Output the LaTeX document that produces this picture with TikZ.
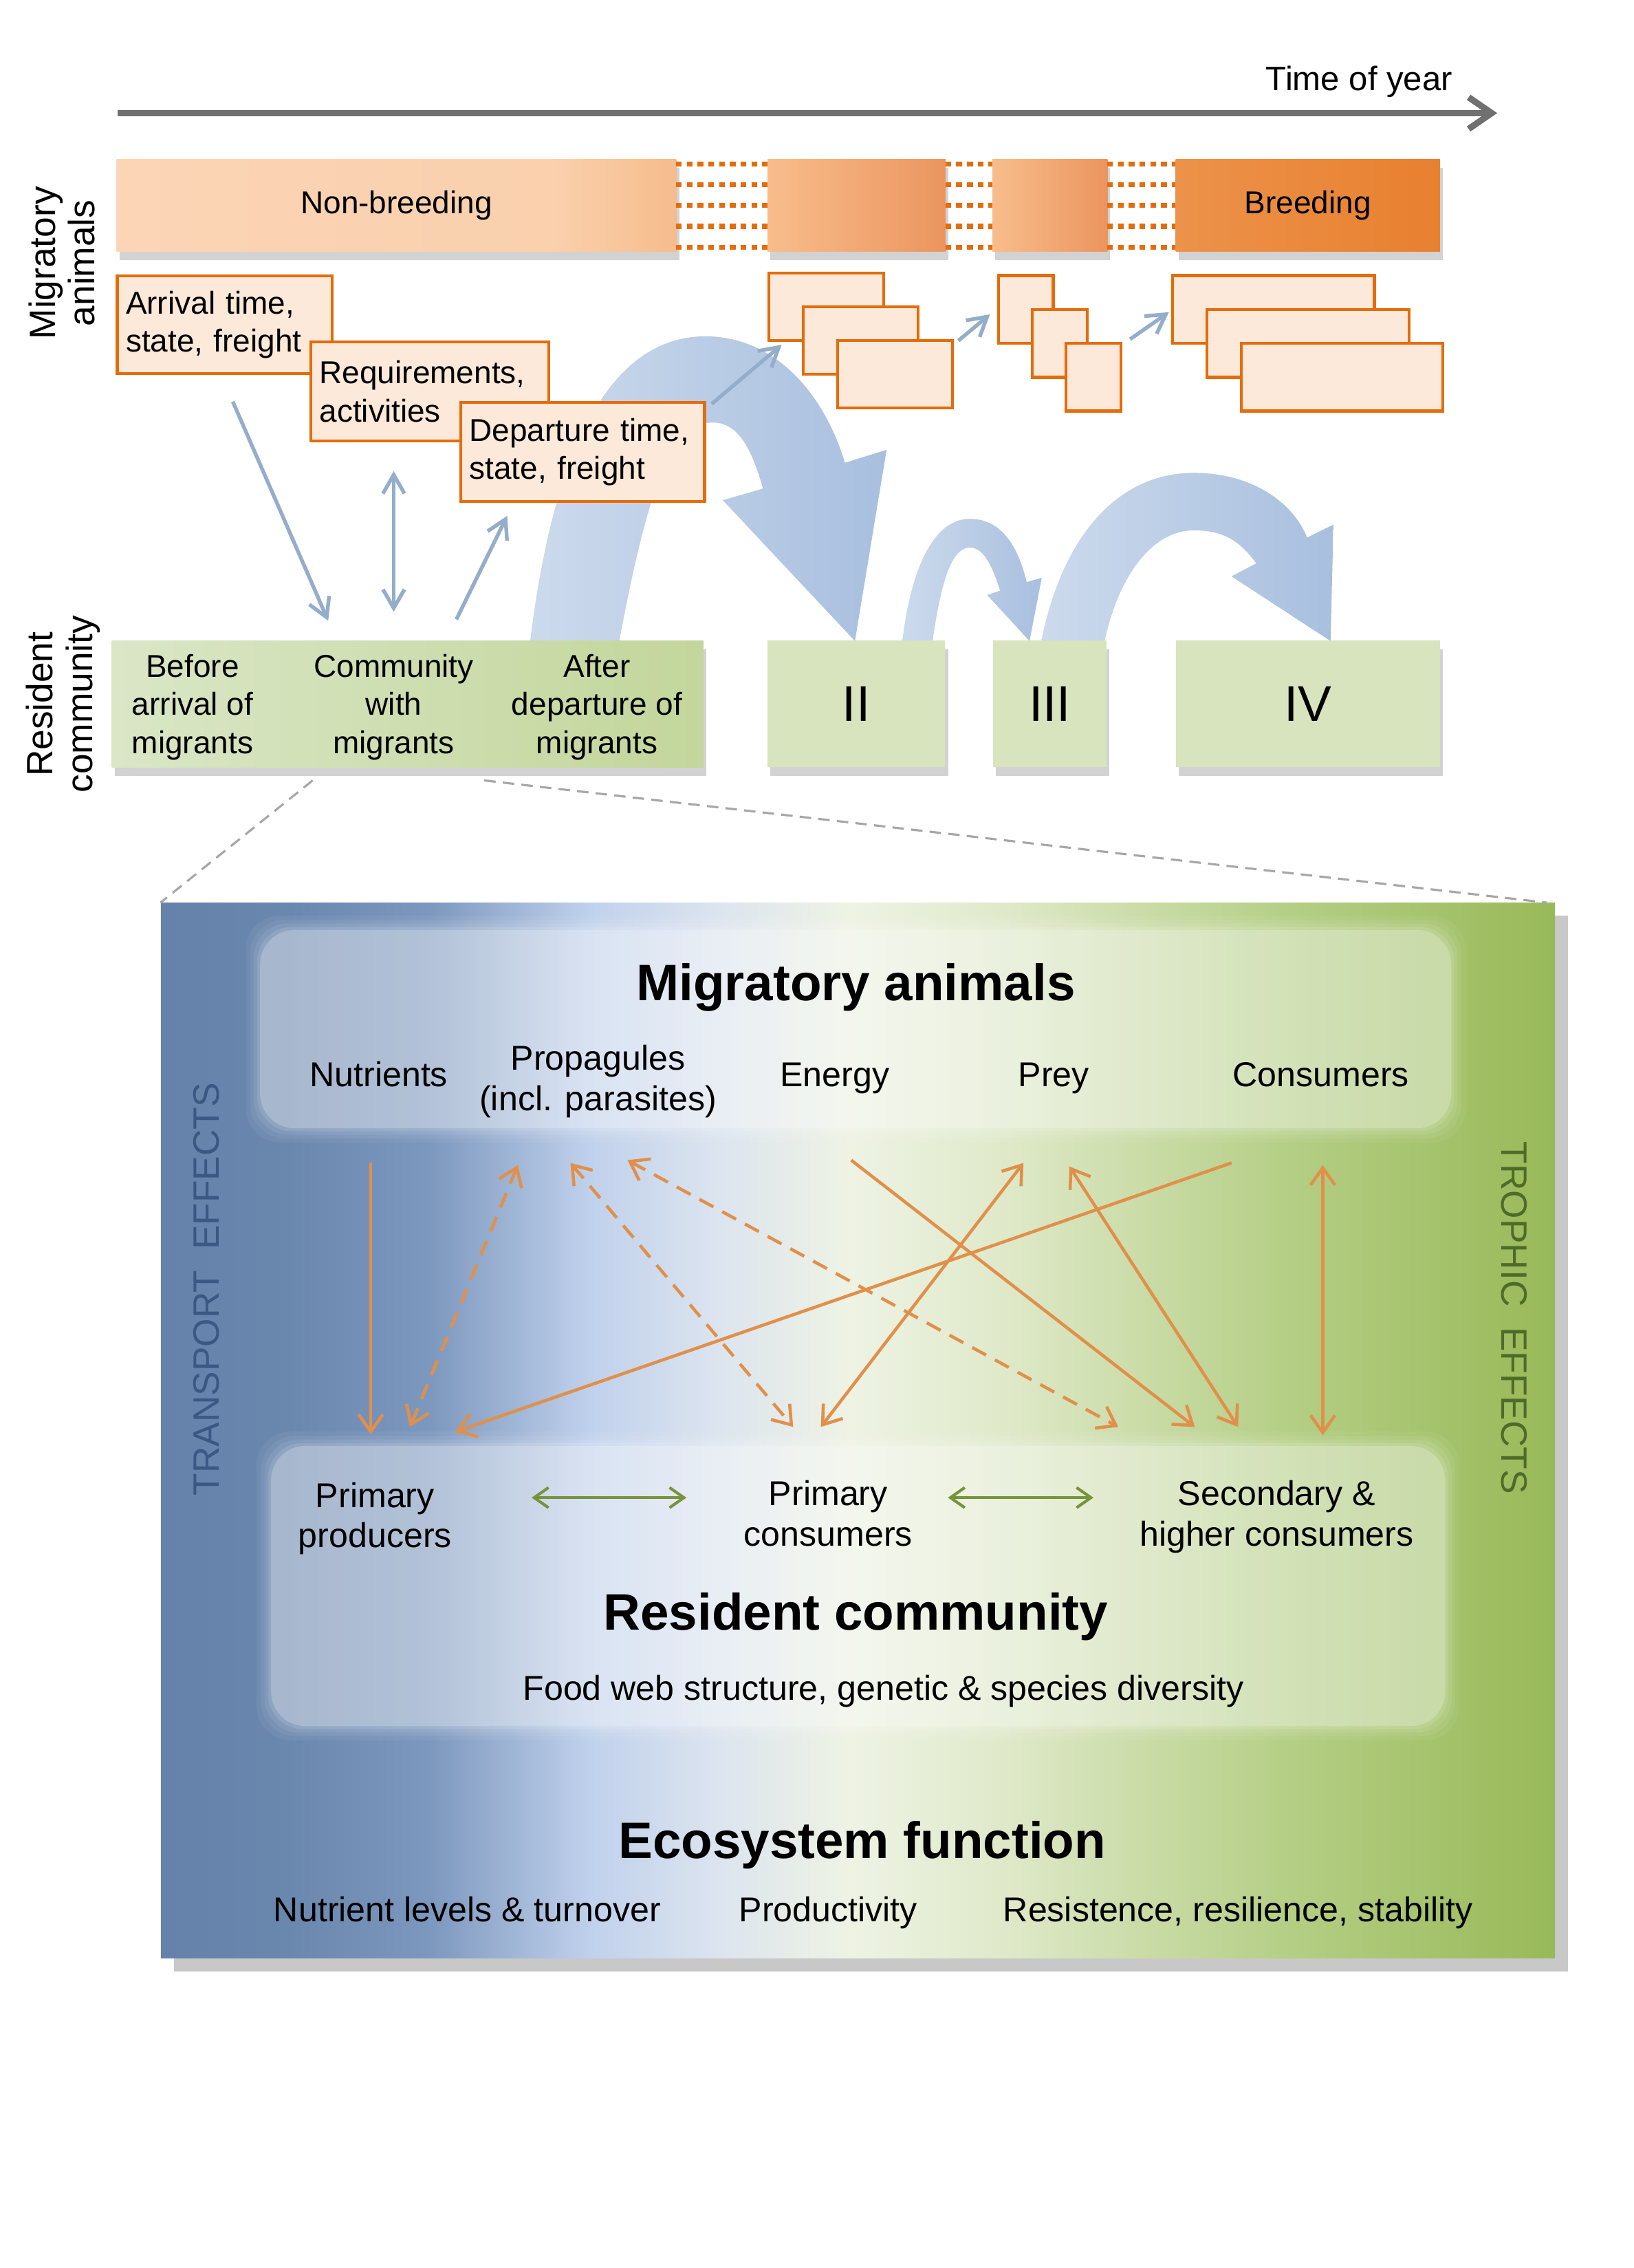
\documentclass[tikz,border=0pt]{standalone}
\usepackage{fontspec}
\setmainfont{Liberation Sans}
\usetikzlibrary{arrows.meta,shadows,calc}

\definecolor{orline}{HTML}{E46C0A}
\definecolor{orfill}{HTML}{FDE9D9}
\definecolor{grfill}{HTML}{D7E4BD}
\definecolor{grL}{HTML}{DAE6C6}
\definecolor{grM}{HTML}{D2E0B6}
\definecolor{grR}{HTML}{C3D69B}
\definecolor{nbL}{HTML}{FBD5B6}
\definecolor{nbM}{HTML}{FAD0AD}
\definecolor{nbR}{HTML}{F6BC8C}
\definecolor{mdL}{HTML}{F8BD8C}
\definecolor{mdR}{HTML}{EB955F}
\definecolor{brL}{HTML}{EC924A}
\definecolor{brR}{HTML}{E8802F}
\definecolor{bigL}{HTML}{CCDAEC}
\definecolor{bigR}{HTML}{A8BFDF}
\definecolor{bluarr}{HTML}{94ADCB}
\definecolor{orarr}{HTML}{E0904B}
\definecolor{grarr}{HTML}{77933C}
\definecolor{timegray}{HTML}{707070}
\definecolor{dashgray}{HTML}{A6A6A6}
\definecolor{trblue}{HTML}{3A5883}
\definecolor{trgreen}{HTML}{4F6B28}
% panel colours, left to right
\definecolor{pnA}{HTML}{6482AA}
\definecolor{pnB}{HTML}{6A87AE}
\definecolor{pnC}{HTML}{7D98BE}
\definecolor{pnD}{HTML}{C0D1EC}
\definecolor{pnE}{HTML}{DCE4EF}
\definecolor{pnF}{HTML}{EEF3E4}
\definecolor{pnG}{HTML}{DFE9C9}
\definecolor{pnH}{HTML}{C9DBA5}
\definecolor{pnI}{HTML}{B4CE84}
\definecolor{pnJ}{HTML}{98B958}

\pgfdeclarehorizontalshading{panelshade}{100bp}{color(0bp)=(pnA); color(25bp)=(pnA);
  color(29.6bp)=(pnB); color(34.7bp)=(pnC); color(40.4bp)=(pnD); color(45bp)=(pnE);
  color(49.7bp)=(pnF); color(55.3bp)=(pnG); color(60.5bp)=(pnH); color(65.6bp)=(pnI);
  color(75bp)=(pnJ); color(100bp)=(pnJ)}
\pgfdeclarehorizontalshading{nbshade}{100bp}{color(0bp)=(nbL); color(25bp)=(nbL);
  color(64bp)=(nbM); color(75bp)=(nbR); color(100bp)=(nbR)}

\newcommand{\topfont}{\fontsize{22}{26.5}\selectfont}
\newcommand{\timefont}{\fontsize{23.5}{28}\selectfont}
\newcommand{\panelfont}{\fontsize{24}{28}\selectfont}
\newcommand{\titlefont}{\fontsize{35.7}{40}\selectfont\bfseries}
\newcommand{\sidefont}{\fontsize{25.5}{27.5}\selectfont}
\newcommand{\numfont}{\fontsize{35}{40}\selectfont}

\begin{document}
\begin{tikzpicture}[x=1pt, y=1pt,
    bar/.style={anchor=north west, inner sep=0pt, minimum height=64.2pt, font=\topfont,
      drop shadow={shadow xshift=2pt, shadow yshift=-6pt, opacity=0.25, fill=black!70}},
    orbox/.style={anchor=north west, draw=orline, fill=orfill, line width=2pt, inner sep=0pt},
    txtbox/.style={orbox, inner xsep=6pt, align=left, font=\topfont},
    grbox/.style={anchor=north west, fill=grfill, inner sep=0pt, minimum height=88.2pt,
      drop shadow={shadow xshift=2pt, shadow yshift=-6pt, opacity=0.25, fill=black!70}},
    grtxt/.style={align=center, font=\topfont},
    gapdots/.style={draw=orline, line width=3.5pt, dash pattern=on 4pt off 3.5pt},
    bigarrow/.style={left color=bigL, right color=bigR},
    timearrow/.style={draw=timegray, line width=4.4pt, -{Straight Barb[length=16pt,width=22pt]}},
    bluarrow/.style={draw=bluarr, line width=2.6pt, >={Straight Barb[length=13pt,width=15pt]}},
    orarrow/.style={draw=orarr, line width=2.2pt, >={Straight Barb[length=12pt,width=17pt]}},
    ordash/.style={orarrow, dash pattern=on 11pt off 7pt},
    grarrow/.style={draw=grarr, line width=2pt, <->, >={Straight Barb[length=10pt,width=14pt]}},
    zoomline/.style={draw=dashgray, line width=1.5pt, dash pattern=on 8pt off 5pt},
    paneltxt/.style={font=\panelfont, inner sep=0pt},
    titletxt/.style={font=\titlefont, inner sep=0pt},
    sidetxt/.style={font=\sidefont, rotate=90, align=center, inner sep=0pt}]

  % canvas
  \fill[white] (0,0) rectangle (1137,-1578);
  \useasboundingbox (0,0) rectangle (1137,-1578);

  % time axis
  \coordinate (tstart) at (82,-78.7);
  \coordinate (tend) at (1042,-78.7);
  \draw[timearrow] (tstart) -- (tend);
  \node[font=\timefont, anchor=base east, inner sep=0pt] (tlabel) at (1011,-63) {Time of year};

  % row labels
  \node[sidetxt] (lblmig) at (43,-183) {Migratory\\animals};
  \node[sidetxt] (lblres) at (44,-490) {Resident\\community};

  % phases of the migrants
  \node[bar, minimum width=389.5pt, shade, shading=nbshade] (nonbr) at (81,-110.5) {Non-breeding};
  \node[bar, minimum width=124pt, left color=mdL, right color=mdR] (mig1) at (534,-110.5) {};
  \node[bar, minimum width=80pt, left color=mdL, right color=mdR] (mig2) at (690.5,-110.5) {};
  \node[bar, minimum width=184pt, left color=brL, right color=brR] (breed) at (818,-110.5) {Breeding};

  \foreach \yy in {114,128.5,143,157.5,172} {
    \draw[gapdots] (470.5,-\yy) -- (534,-\yy);
    \draw[gapdots] (658,-\yy) -- (690.5,-\yy);
    \draw[gapdots] (770.5,-\yy) -- (818,-\yy);
  }

  % big arrows between sites
  \shade[bigarrow] (369,-446) .. controls (388,-290) and (435,-234) .. (491,-234)
    .. controls (540,-234) and (574,-275) .. (588,-322) -- (617,-313) -- (595,-446)
    -- (503,-348) -- (531,-340) .. controls (522,-308) and (512,-294) .. (496,-294)
    .. controls (466,-294) and (450,-345) .. (431,-446) -- cycle;
  \shade[bigarrow] (628,-446) .. controls (634,-395) and (650,-361) .. (675,-361)
    .. controls (698,-361) and (709,-382) .. (714.5,-405) -- (725,-402) -- (716.5,-446)
    -- (687,-414) -- (696,-411) .. controls (690,-392) and (684,-381) .. (675,-381)
    .. controls (662,-381) and (655,-405) .. (649,-446) -- cycle;
  \shade[bigarrow] (724.7,-446) .. controls (740,-370) and (780,-329) .. (830.7,-329)
    .. controls (872,-329) and (900,-350) .. (909.7,-374) -- (928,-365) -- (926,-446)
    -- (857,-401) -- (874.3,-392) .. controls (862,-375) and (850,-369) .. (830.7,-369)
    .. controls (805,-369) and (780,-395) .. (768.7,-446) -- cycle;

  % what the migrants bring
  \node[txtbox, text width=137.6pt, minimum height=68pt] (arr) at (80.6,-191) {Arrival time,\\state, freight};
  \node[txtbox, text width=153.6pt, minimum height=68.9pt] (req) at (215.4,-236.9) {Requirements,\\activities};
  \node[txtbox, text width=157.6pt, minimum height=68.9pt] (dep) at (319.7,-279) {Departure time,\\state, freight};

  \foreach \n/\xx/\yy in {a/534/188.9, b/558/212.5, c/582/236}
    \node[orbox, minimum width=80pt, minimum height=47pt] (s1\n) at (\xx,-\yy) {};
  \foreach \n/\xx/\yy in {a/694/190.7, b/717.5/214.5, c/741/238}
    \node[orbox, minimum width=38pt, minimum height=47pt] (s2\n) at (\xx,-\yy) {};
  \foreach \n/\xx/\yy in {a/815/190.7, b/839/214.5, c/862.8/238}
    \node[orbox, minimum width=140.5pt, minimum height=47pt] (s3\n) at (\xx,-\yy) {};

  \draw[bluarrow, ->] ($(dep.north east)+(4,-2)$) -- ($(s1a.south west)+(10,-2)$);
  \draw[bluarrow, ->] ($(s1c.north east)+(3,-1)$) -- ($(s2a.south west)+(-5,21)$);
  \draw[bluarrow, ->] ($(s2c.north east)+(5.5,2)$) -- ($(s3a.south west)+(-1.5,22.5)$);

  % resident community at the sites
  \node[grbox, minimum width=411.8pt, left color=grL, middle color=grM, right color=grR] (grall) at (77.6,-445.4) {};
  \node[grbox, minimum width=123.6pt, font=\numfont] (grII) at (534,-445.4) {II};
  \node[grbox, minimum width=79pt, font=\numfont] (grIII) at (691,-445.4) {III};
  \node[grbox, minimum width=184pt, font=\numfont] (grIV) at (818,-445.4) {IV};

  \node[grtxt] (before) at (134,-492) {Before\\arrival of\\migrants};
  \node[grtxt] (with) at (274,-492) {Community\\with\\migrants};
  \node[grtxt] (after) at (415.4,-492) {After\\departure of\\migrants};

  \draw[bluarrow, ->] ($(arr.south)+(5.6,-18.4)$) -- ($(grall.north west)+(150.8,13.5)$);
  \draw[bluarrow, <->] ($(req.south west)+(58.6,-20)$) -- ($(grall.north west)+(196.4,19.7)$);
  \draw[bluarrow, ->] ($(grall.north west)+(240,14.4)$) -- ($(dep.south west)+(33.3,-9)$);

  % close-up panel
  \node[anchor=north west, inner sep=0pt, minimum width=970.3pt, minimum height=734.4pt,
    shade, shading=panelshade,
    drop shadow={shadow xshift=9pt, shadow yshift=-9pt, opacity=0.3, fill=black!70}] (panel) at (111.7,-628) {};

  \draw[zoomline] ($(grall.south west)+(140,-9)$) -- (panel.north west);
  \draw[zoomline] ($(grall.south west)+(259.4,-9)$) -- ($(panel.north east)+(-6,0)$);

  \foreach \d/\o in {10/0.05,7/0.06,4.5/0.08,2/0.1,0/0.22} {
    \fill[white, opacity=\o, rounded corners=24pt] (181-\d,-647+\d) rectangle (1010+\d,-785-\d);
    \fill[white, opacity=\o, rounded corners=24pt] (188.6-\d,-1006+\d) rectangle (1005.8+\d,-1201-\d);
  }

  \node[font=\sidefont, rotate=90, text=trblue, inner sep=0pt] (transp) at (143.8,-897) {TRANSPORT\ \ EFFECTS};
  \node[font=\sidefont, rotate=-90, text=trgreen, inner sep=0pt] (troph) at (1053.9,-917) {TROPHIC\ \ EFFECTS};

  % migratory animals
  \node[titletxt, anchor=base] (migt) at (595.6,-696) {Migratory animals};
  \node[paneltxt, anchor=base] (nutr) at (263.6,-756) {Nutrients};
  \node[paneltxt, align=center] (propa) at (416.2,-752.3) {Propagules\\(incl. parasites)};
  \node[paneltxt, anchor=base] (energy) at (580.9,-756) {Energy};
  \node[paneltxt, anchor=base] (prey) at (733.4,-756) {Prey};
  \node[paneltxt, anchor=base] (cons) at (919.3,-756) {Consumers};

  % resident community
  \node[paneltxt, align=center] (pprod) at (261,-1056.5) {Primary\\producers};
  \node[paneltxt, align=center] (pcons) at (576.4,-1053) {Primary\\consumers};
  \node[paneltxt, align=center] (scons) at (888.5,-1055.3) {Secondary \&\\higher consumers};
  \node[titletxt, anchor=base] (rest) at (595.6,-1134) {Resident community};
  \node[paneltxt, anchor=base] (foodweb) at (614.8,-1183) {Food web structure, genetic \& species diversity};

  % ecosystem function
  \node[titletxt, anchor=base] (ecot) at (600.1,-1293) {Ecosystem function};
  \node[paneltxt, anchor=base] (nutlev) at (325.2,-1337) {Nutrient levels \& turnover};
  \node[paneltxt, anchor=base] (produc) at (576.4,-1337) {Productivity};
  \node[paneltxt, anchor=base] (resil) at (861.6,-1337) {Resistence, resilience, stability};

  % arrow ends
  \coordinate (nuA) at (258,-809);     \coordinate (nuB) at (258,-998);
  \coordinate (pgA1) at (360.4,-810.6); \coordinate (ppB1) at (285.4,-992.8);
  \coordinate (pgA2) at (397,-809.1);   \coordinate (pcB1) at (552,-992.8);
  \coordinate (pgA3) at (436.7,-807.2); \coordinate (scB1) at (778.3,-992.8);
  \coordinate (enA) at (592.4,-807.2);  \coordinate (scB2) at (831.5,-992.8);
  \coordinate (prA1) at (712.3,-809.1); \coordinate (pcB2) at (571.3,-992.8);
  \coordinate (prA2) at (744.3,-811.6); \coordinate (scB3) at (861.6,-992.8);
  \coordinate (coA1) at (857.1,-809.1); \coordinate (ppB2) at (316.8,-996.2);
  \coordinate (coA2) at (920.6,-810.6); \coordinate (scB4) at (920.6,-998.6);
  \coordinate (fwA1) at (370,-1042);   \coordinate (fwB1) at (477.7,-1042);
  \coordinate (fwA2) at (659.7,-1042); \coordinate (fwB2) at (761,-1042);

  % transport and trophic links
  \draw[orarrow, ->] (nuA) -- (nuB);
  \draw[ordash, <->] (pgA1) -- (ppB1);
  \draw[ordash, <->] (pgA2) -- (pcB1);
  \draw[ordash, <->] (pgA3) -- (scB1);
  \draw[orarrow, ->] (enA) -- (scB2);
  \draw[orarrow, <->] (prA1) -- (pcB2);
  \draw[orarrow, <->] (prA2) -- (scB3);
  \draw[orarrow, ->] (coA1) -- (ppB2);
  \draw[orarrow, <->] (coA2) -- (scB4);

  % food web links
  \draw[grarrow] (fwA1) -- (fwB1);
  \draw[grarrow] (fwA2) -- (fwB2);

\end{tikzpicture}
\end{document}
